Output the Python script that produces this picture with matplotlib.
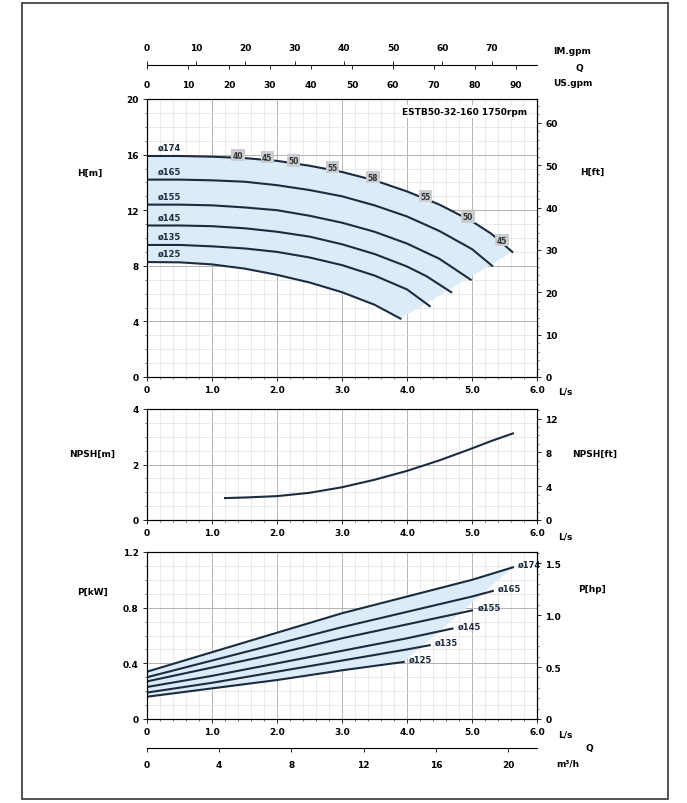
import numpy as np
import matplotlib.pyplot as plt
from matplotlib.patches import Rectangle
from matplotlib.ticker import MultipleLocator

# impeller diameters
diameters = ['ø174', 'ø165', 'ø155', 'ø145', 'ø135', 'ø125']

# head curves, Q in l/s, H in m
q_h174 = [0, 0.5, 1.0, 1.5, 2.0, 2.5, 3.0, 3.5, 4.0, 4.5, 5.0, 5.3, 5.62]
h_174 = [15.9, 15.9, 15.85, 15.75, 15.55, 15.2, 14.75, 14.15, 13.35, 12.4, 11.2, 10.3, 9.0]
q_h165 = [0, 0.5, 1.0, 1.5, 2.0, 2.5, 3.0, 3.5, 4.0, 4.5, 5.0, 5.31]
h_165 = [14.2, 14.2, 14.15, 14.05, 13.8, 13.45, 13.0, 12.35, 11.55, 10.5, 9.2, 8.0]
q_h155 = [0, 0.5, 1.0, 1.5, 2.0, 2.5, 3.0, 3.5, 4.0, 4.5, 4.98]
h_155 = [12.4, 12.4, 12.35, 12.2, 12.0, 11.6, 11.1, 10.45, 9.6, 8.5, 7.0]
q_h145 = [0, 0.5, 1.0, 1.5, 2.0, 2.5, 3.0, 3.5, 4.0, 4.3, 4.68]
h_145 = [10.9, 10.9, 10.85, 10.7, 10.45, 10.1, 9.55, 8.85, 7.95, 7.25, 6.1]
q_h135 = [0, 0.5, 1.0, 1.5, 2.0, 2.5, 3.0, 3.5, 4.0, 4.35]
h_135 = [9.5, 9.5, 9.4, 9.25, 9.0, 8.6, 8.05, 7.3, 6.3, 5.1]
q_h125 = [0, 0.5, 1.0, 1.5, 2.0, 2.5, 3.0, 3.5, 3.9]
h_125 = [8.27, 8.25, 8.1, 7.8, 7.35, 6.8, 6.1, 5.2, 4.2]

# efficiency marks along the largest impeller
eff_q = [1.4, 1.85, 2.25, 2.85, 3.48, 4.28, 4.94, 5.46]
eff_labels = ['40', '45', '50', '55', '58', '55', '50', '45']

# NPSH required, m
q_npsh = [1.2, 1.5, 2.0, 2.5, 3.0, 3.5, 4.0, 4.5, 5.0, 5.3, 5.63]
npsh = [0.79, 0.81, 0.86, 0.98, 1.18, 1.45, 1.77, 2.15, 2.58, 2.85, 3.12]

# shaft power, kW
q_p174 = [0, 1, 2, 3, 4, 5, 5.63]
p_174 = [0.34, 0.48, 0.62, 0.76, 0.88, 1.0, 1.09]
q_p165 = [0, 1, 2, 3, 4, 5, 5.32]
p_165 = [0.30, 0.42, 0.54, 0.66, 0.77, 0.88, 0.92]
q_p155 = [0, 1, 2, 3, 4, 5.0]
p_155 = [0.27, 0.37, 0.47, 0.58, 0.68, 0.78]
q_p145 = [0, 1, 2, 3, 4, 4.7]
p_145 = [0.23, 0.31, 0.40, 0.49, 0.58, 0.65]
q_p135 = [0, 1, 2, 3, 4, 4.35]
p_135 = [0.19, 0.26, 0.34, 0.42, 0.50, 0.53]
q_p125 = [0, 1, 2, 3, 3.95]
p_125 = [0.16, 0.22, 0.28, 0.35, 0.41]

head_q = [q_h174, q_h165, q_h155, q_h145, q_h135, q_h125]
head_h = [h_174, h_165, h_155, h_145, h_135, h_125]
pow_q = [q_p174, q_p165, q_p155, q_p145, q_p135, q_p125]
pow_p = [p_174, p_165, p_155, p_145, p_135, p_125]

x_ticks = [0, 1, 2, 3, 4, 5, 6]
x_labels = ['0', '1.0', '2.0', '3.0', '4.0', '5.0', '6.0']

LINE = '#1c2b3f'
SHADE = '#dcebf8'
FS = 6.5

W_PX, H_PX = 687, 804
fig = plt.figure(figsize=(W_PX / 100, H_PX / 100), dpi=100)


def fy(px):
    return 1 - px / H_PX


def fx(px):
    return px / W_PX


L, W = fx(147), fx(390)


def style(ax, ymax, yticks, ylabels, yminor):
    ax.set_xlim(0, 6)
    ax.set_ylim(0, ymax)
    ax.set_xticks(x_ticks)
    ax.set_xticklabels(x_labels)
    ax.set_yticks(yticks)
    ax.set_yticklabels(ylabels)
    ax.xaxis.set_minor_locator(MultipleLocator(0.2))
    ax.yaxis.set_minor_locator(MultipleLocator(yminor))
    ax.grid(which='major', color='#b4b4b4', lw=0.7)
    ax.grid(which='minor', color='#e2e2e2', lw=0.5)
    ax.set_axisbelow(True)
    ax.tick_params(labelsize=FS, length=3, width=0.6, pad=3)
    ax.tick_params(which='minor', length=1.5, width=0.4)
    for lab in ax.get_xticklabels() + ax.get_yticklabels():
        lab.set_fontweight('bold')
    for s in ax.spines.values():
        s.set_linewidth(0.8)
        s.set_color('#333333')


def twin(ax, ymax, ticks, labels, minor):
    t = ax.twinx()
    t.set_ylim(0, ymax)
    t.set_yticks(ticks)
    t.set_yticklabels(labels)
    t.yaxis.set_minor_locator(MultipleLocator(minor))
    t.tick_params(labelsize=FS, length=3, width=0.6, pad=3)
    t.tick_params(which='minor', length=1.5, width=0.4)
    for lab in t.get_yticklabels():
        lab.set_fontweight('bold')
    return t


# ---------- head ----------
ax_h = fig.add_axes([L, fy(378), W, (378 - 100) / H_PX])
style(ax_h, 20, [0, 4, 8, 12, 16, 20], ['0', '4', '8', '12', '16', '20'], 1)
ax_h.fill(list(head_q[0]) + list(head_q[-1])[::-1],
          list(head_h[0]) + list(head_h[-1])[::-1], color=SHADE, lw=0, zorder=1)
for d, q, h in zip(diameters, head_q, head_h):
    ax_h.plot(q, h, color=LINE, lw=1.5, zorder=3)
    ax_h.text(0.35, h[0] + 0.6, d, fontsize=6, fontweight='bold', color=LINE,
              ha='center', va='center', zorder=4)
for qe, lab in zip(eff_q, eff_labels):
    he = np.interp(qe, q_h174, h_174)
    ax_h.text(qe, he + 0.2, lab, fontsize=5.5, fontweight='bold', color='#333333',
              ha='center', va='center', zorder=5,
              bbox=dict(boxstyle='square,pad=0.2', fc='#c9ccd0', ec='none'))
ax_h.text(0.975, 0.955, 'ESTB50-32-160 1750rpm', transform=ax_h.transAxes,
          fontsize=6.5, fontweight='bold', ha='right', va='center', zorder=5,
          bbox=dict(boxstyle='square,pad=0.2', fc='white', ec='none'))
twin(ax_h, 20 * 3.2808, [0, 10, 20, 30, 40, 50, 60],
     ['0', '10', '20', '30', '40', '50', '60'], 2)

# ---------- NPSH ----------
ax_n = fig.add_axes([L, fy(521), W, (521 - 410) / H_PX])
style(ax_n, 4, [0, 2, 4], ['0', '2', '4'], 0.5)
ax_n.plot(q_npsh, npsh, color=LINE, lw=1.5, zorder=3)
twin(ax_n, 4 * 3.2808, [0, 4, 8, 12], ['0', '4', '8', '12'], 1)

# ---------- power ----------
ax_p = fig.add_axes([L, fy(720), W, (720 - 553) / H_PX])
style(ax_p, 1.2, [0, 0.4, 0.8, 1.2], ['0', '0.4', '0.8', '1.2'], 0.1)
ax_p.fill(list(pow_q[0]) + list(pow_q[-1])[::-1],
          list(pow_p[0]) + list(pow_p[-1])[::-1], color=SHADE, lw=0, zorder=1)
for d, q, p in zip(diameters, pow_q, pow_p):
    ax_p.plot(q, p, color=LINE, lw=1.5, zorder=3)
    ax_p.text(q[-1] + 0.08, p[-1] + 0.02, d, fontsize=6, fontweight='bold',
              color=LINE, ha='left', va='center', zorder=4)
twin(ax_p, 1.2 * 1.341, [0, 0.5, 1.0, 1.5], ['0', '0.5', '1.0', '1.5'], 0.1)

# ---------- extra flow scales ----------
ax_imp = fig.add_axes([L, fy(66), W, 0.0001])
ax_imp.set_xlim(0, 6 * 13.198)
ax_imp.set_xticks([0, 10, 20, 30, 40, 50, 60, 70])
ax_imp.set_yticks([])
ax_imp.xaxis.tick_top()
ax_imp.tick_params(labelsize=FS, length=3, width=0.6, pad=6)
for s in ['left', 'right', 'top']:
    ax_imp.spines[s].set_visible(False)
ax_imp.spines['bottom'].set_linewidth(0.8)
for lab in ax_imp.get_xticklabels():
    lab.set_fontweight('bold')

ax_us = fig.add_axes([L, fy(66), W, 0.0001])
ax_us.set_xlim(0, 6 * 15.85)
ax_us.set_xticks([0, 10, 20, 30, 40, 50, 60, 70, 80, 90])
ax_us.set_yticks([])
ax_us.patch.set_visible(False)
ax_us.tick_params(labelsize=FS, length=3, width=0.6, pad=8)
for s in ax_us.spines.values():
    s.set_visible(False)
for lab in ax_us.get_xticklabels():
    lab.set_fontweight('bold')

ax_m3 = fig.add_axes([L, fy(749), W, 0.0001])
ax_m3.set_xlim(0, 6 * 3.6)
ax_m3.set_xticks([0, 4, 8, 12, 16, 20])
ax_m3.set_yticks([])
ax_m3.tick_params(labelsize=FS, length=3, width=0.6, pad=6)
for s in ['left', 'right', 'top']:
    ax_m3.spines[s].set_visible(False)
ax_m3.spines['bottom'].set_linewidth(0.8)
for lab in ax_m3.get_xticklabels():
    lab.set_fontweight('bold')

# ---------- unit labels ----------
kw = dict(fontsize=6.5, fontweight='bold', va='center')
fig.text(fx(553), fy(52), 'IM.gpm', **kw)
fig.text(fx(575), fy(68), 'Q', **kw)
fig.text(fx(553), fy(84), 'US.gpm', **kw)
fig.text(fx(90), fy(173), 'H[m]', ha='center', **kw)
fig.text(fx(592), fy(172), 'H[ft]', ha='center', **kw)
fig.text(fx(92), fy(454), 'NPSH[m]', ha='center', **kw)
fig.text(fx(595), fy(454), 'NPSH[ft]', ha='center', **kw)
fig.text(fx(92), fy(592), 'P[kW]', ha='center', **kw)
fig.text(fx(592), fy(589), 'P[hp]', ha='center', **kw)
for ypx in (392, 537, 735):
    fig.text(fx(558), fy(ypx), 'L/s', **kw)
fig.text(fx(585), fy(749), 'Q', **kw)
fig.text(fx(556), fy(764), 'm³/h', **kw)

# frame
fig.patches.append(Rectangle((fx(22), fy(800)), fx(668 - 22), (800 - 4) / H_PX,
                             transform=fig.transFigure, fill=False,
                             lw=1.3, ec='#444444'))

fig.savefig('out.png', dpi=100)
